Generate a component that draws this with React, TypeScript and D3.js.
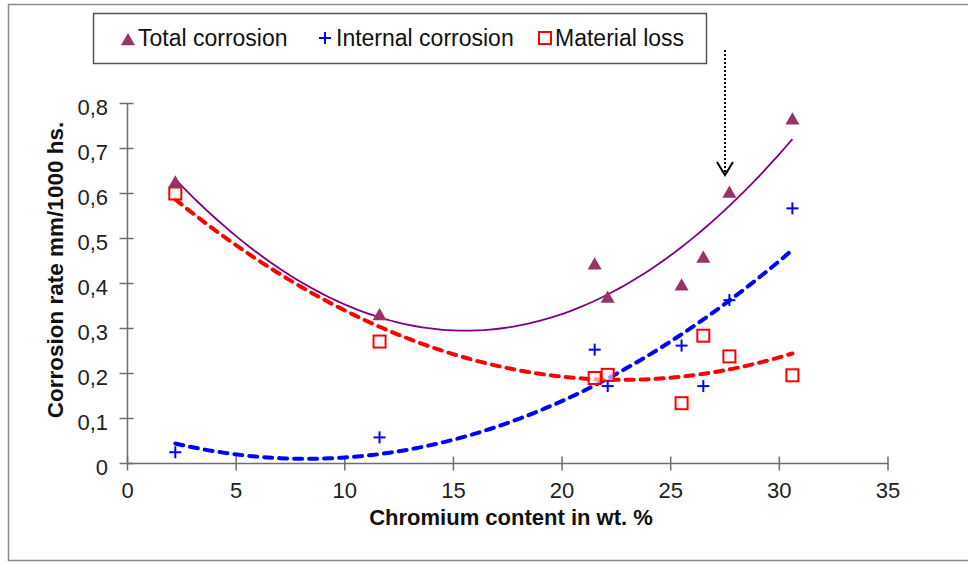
import React from "react";
import * as d3 from "d3";

const chromium = [2.2, 11.6, 21.5, 22.1, 25.5, 26.5, 27.7, 30.6];
const totalCorrosion = [0.625, 0.33, 0.443, 0.369, 0.396, 0.458, 0.602, 0.765];
const internalCorrosion = [0.025, 0.058, 0.253, 0.172, 0.262, 0.172, 0.363, 0.567];
const materialLoss = [0.6, 0.271, 0.19, 0.197, 0.134, 0.284, 0.238, 0.196];
const xTicks = [0, 5, 10, 15, 20, 25, 30, 35];
const yTicks = [0, 0.1, 0.2, 0.3, 0.4, 0.5, 0.6, 0.7, 0.8];
const legendLabels = ["Total corrosion", "Internal corrosion", "Material loss"];

const W = 968;
const H = 565;
const FONT = "'Liberation Sans', Arial, sans-serif";

function quadFit(xs: number[], ys: number[]) {
  // least squares y = a + b x + c x^2
  let s0 = 0, s1 = 0, s2 = 0, s3 = 0, s4 = 0, t0 = 0, t1 = 0, t2 = 0;
  xs.forEach((x, i) => {
    const y = ys[i];
    s0 += 1; s1 += x; s2 += x * x; s3 += x ** 3; s4 += x ** 4;
    t0 += y; t1 += x * y; t2 += x * x * y;
  });
  const M = [
    [s0, s1, s2, t0],
    [s1, s2, s3, t1],
    [s2, s3, s4, t2],
  ];
  for (let i = 0; i < 3; i++) {
    for (let j = i + 1; j < 3; j++) {
      const f = M[j][i] / M[i][i];
      for (let k = i; k < 4; k++) M[j][k] -= f * M[i][k];
    }
  }
  const c = M[2][3] / M[2][2];
  const b = (M[1][3] - M[1][2] * c) / M[1][1];
  const a = (M[0][3] - M[0][1] * b - M[0][2] * c) / M[0][0];
  return (x: number) => a + b * x + c * x * x;
}

export default function App() {
  const x = d3.scaleLinear().domain([0, 35]).range([127.5, 888]);
  const y = d3.scaleLinear().domain([0, 0.8]).range([463.5, 103.5]);

  const xMin = d3.min(chromium) as number;
  const xMax = d3.max(chromium) as number;
  const samples = d3.range(0, 101).map((i) => xMin + ((xMax - xMin) * i) / 100);
  const line = (f: (v: number) => number) =>
    d3
      .line<number>()
      .x((v) => x(v))
      .y((v) => y(f(v)))
      .curve(d3.curveLinear)(samples) as string;

  const fTotal = quadFit(chromium, totalCorrosion);
  const fInternal = quadFit(chromium, internalCorrosion);
  const fLoss = quadFit(chromium, materialLoss);

  const tri = (cx: number, cy: number, s = 7) =>
    `M${cx},${cy - s} L${cx + s},${cy + s * 0.75} L${cx - s},${cy + s * 0.75} Z`;

  return (
    <svg
      width={W}
      height={H}
      style={{ position: "absolute", left: 0, top: 0, background: "#fff" }}
      fontFamily={FONT}
    >
      <rect x={0} y={0} width={W} height={H} fill="#fff" />
      {/* outer frame */}
      <path d={`M${W + 2},4.5 H8.5 V560.5 H${W + 2}`} fill="none" stroke="#8c8c8c" strokeWidth={1.5} />

      {/* axes */}
      <line x1={x(0)} x2={x(35)} y1={y(0)} y2={y(0)} stroke="#6e6e6e" strokeWidth={1.5} />
      <line x1={x(0)} x2={x(0)} y1={y(0)} y2={y(0.8)} stroke="#6e6e6e" strokeWidth={1.5} />
      {xTicks.map((t) => (
        <g key={"xt" + t}>
          <line x1={x(t)} x2={x(t)} y1={y(0) - 7} y2={y(0) + 7} stroke="#6e6e6e" strokeWidth={1.5} />
          <text x={x(t)} y={498} textAnchor="middle" fontSize={22} fill="#222">
            {t}
          </text>
        </g>
      ))}
      {yTicks.map((t) => (
        <g key={"yt" + t}>
          <line x1={x(0) - 8} x2={x(0) + 6} y1={y(t)} y2={y(t)} stroke="#6e6e6e" strokeWidth={1.5} />
          <text x={108} y={y(t) + 11} textAnchor="end" fontSize={22} fill="#222">
            {t === 0 ? "0" : d3.format(".1f")(t).replace(".", ",")}
          </text>
        </g>
      ))}

      {/* axis titles */}
      <text x={511} y={525} textAnchor="middle" fontSize={22} fontWeight="bold" fill="#111">
        Chromium content in wt. %
      </text>
      <text
        transform={`translate(63,270) rotate(-90)`}
        textAnchor="middle"
        fontSize={22.5}
        fontWeight="bold"
        fill="#111"
      >
        Corrosion rate mm/1000 hs.
      </text>

      {/* trendlines */}
      <path d={line(fLoss)} fill="none" stroke="#ff0000" strokeWidth={4} strokeDasharray="8 7" strokeLinecap="round" />
      <path d={line(fInternal)} fill="none" stroke="#0000ff" strokeWidth={4} strokeDasharray="8 7" strokeLinecap="round" />
      <path d={line(fTotal)} fill="none" stroke="#800080" strokeWidth={1.8} />

      {/* markers */}
      {chromium.map((c, i) => (
        <rect
          key={"ml" + i}
          x={x(c) - 6}
          y={y(materialLoss[i]) - 6}
          width={12}
          height={12}
          fill="#fff"
          fillOpacity={0.6}
          stroke="#ff0000"
          strokeWidth={2}
        />
      ))}
      {chromium.map((c, i) => (
        <g key={"ic" + i} stroke="#0000ff" strokeWidth={2}>
          <line x1={x(c) - 6} x2={x(c) + 6} y1={y(internalCorrosion[i])} y2={y(internalCorrosion[i])} />
          <line x1={x(c)} x2={x(c)} y1={y(internalCorrosion[i]) - 6} y2={y(internalCorrosion[i]) + 6} />
        </g>
      ))}
      {chromium.map((c, i) => (
        <path key={"tc" + i} d={tri(x(c), y(totalCorrosion[i]))} fill="#993366" />
      ))}

      {/* arrow annotation */}
      <line x1={725} x2={725} y1={50} y2={172} stroke="#000" strokeWidth={2} strokeDasharray="2 2" />
      <path d="M717,162 L725,175 L733,162" fill="none" stroke="#000" strokeWidth={2} />

      {/* legend */}
      <rect x={93.5} y={13.5} width={613} height={50} fill="#fff" stroke="#555" strokeWidth={1.5} />
      <path d={tri(128, 40, 7)} fill="#993366" />
      <text x={138} y={46} fontSize={23} fill="#111">
        {legendLabels[0]}
      </text>
      <g stroke="#0000ff" strokeWidth={2}>
        <line x1={319} x2={331} y1={38} y2={38} />
        <line x1={325} x2={325} y1={32} y2={44} />
      </g>
      <text x={336} y={46} fontSize={23} fill="#111">
        {legendLabels[1]}
      </text>
      <rect x={539} y={32} width={12} height={12} fill="#fff" stroke="#ff0000" strokeWidth={2} />
      <text x={555} y={46} fontSize={23} fill="#111">
        {legendLabels[2]}
      </text>
    </svg>
  );
}
